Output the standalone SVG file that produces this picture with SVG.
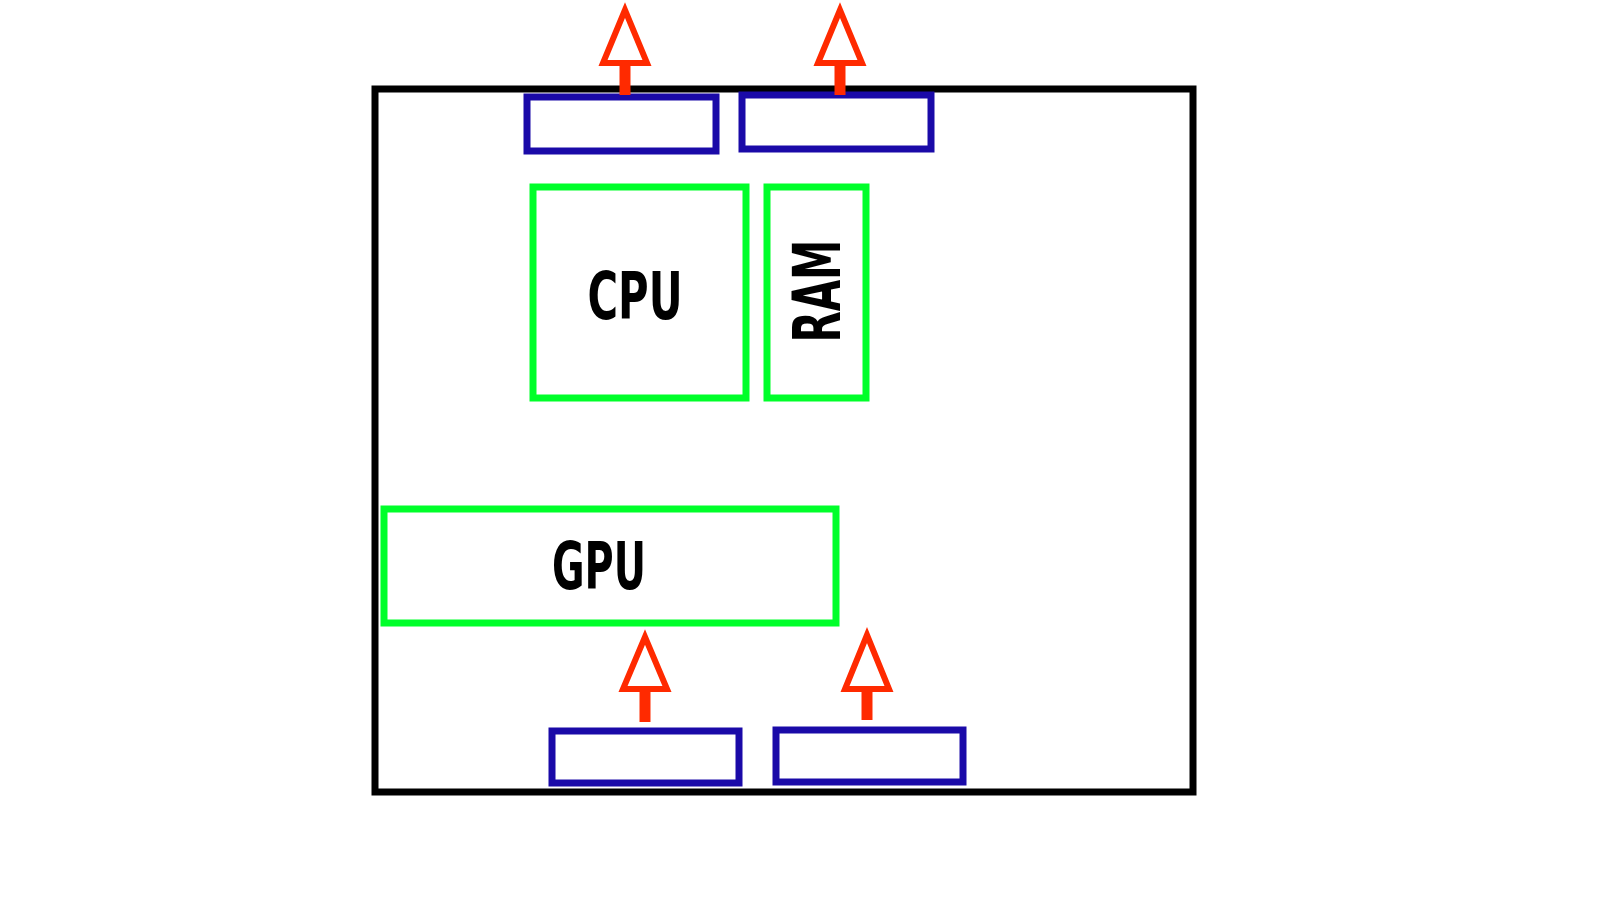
<svg xmlns="http://www.w3.org/2000/svg" width="1600" height="900" viewBox="0 0 1600 900">
<style>
.case{fill:none;stroke:#000;stroke-width:7}
.port{fill:none;stroke:#1a0aa8;stroke-width:7}
.comp{fill:none;stroke:#00ff2a;stroke-width:7}
.head{fill:none;stroke:#ff2a00;stroke-width:6;stroke-linejoin:miter}
.shaft{stroke:#ff2a00;stroke-width:11}
.lbl{font-family:"Liberation Sans Narrow","DejaVu Sans Condensed","Liberation Sans",sans-serif;font-weight:bold;font-size:66px;fill:#000;text-anchor:middle}
</style>
<rect width="1600" height="900" fill="#fff"/>
<g id="case"><rect class="case" x="375" y="89" width="818" height="703"/></g>
<g id="port-top-1"><rect class="port" x="527" y="97" width="189" height="54"/></g>
<g id="port-top-2"><rect class="port" x="742" y="95" width="189" height="54"/></g>
<g id="port-bottom-1"><rect class="port" x="552" y="731" width="187" height="52"/></g>
<g id="port-bottom-2"><rect class="port" x="776" y="730" width="187" height="52"/></g>
<g id="cpu"><rect class="comp" x="533" y="187" width="213" height="211"/><text class="lbl" x="635" y="319" textLength="95" lengthAdjust="spacingAndGlyphs">CPU</text></g>
<g id="ram"><rect class="comp" x="767" y="187" width="99" height="211"/><text class="lbl" transform="translate(840,291) rotate(-90)" x="0" y="0" textLength="103" lengthAdjust="spacingAndGlyphs">RAM</text></g>
<g id="gpu"><rect class="comp" x="384" y="509" width="452" height="114"/><text class="lbl" x="599" y="589" textLength="94" lengthAdjust="spacingAndGlyphs">GPU</text></g>
<g id="connectors">
<line class="shaft" x1="625" y1="65" x2="625" y2="95"/><polygon class="head" points="625,10 603,63 647,63"/>
<line class="shaft" x1="840" y1="65" x2="840" y2="95"/><polygon class="head" points="840,10 818,63 862,63"/>
<line class="shaft" x1="645" y1="689" x2="645" y2="722"/><polygon class="head" points="645,637 623,689 667,689"/>
<line class="shaft" x1="867" y1="689" x2="867" y2="720"/><polygon class="head" points="867,635 845,689 889,689"/>
</g>
</svg>
